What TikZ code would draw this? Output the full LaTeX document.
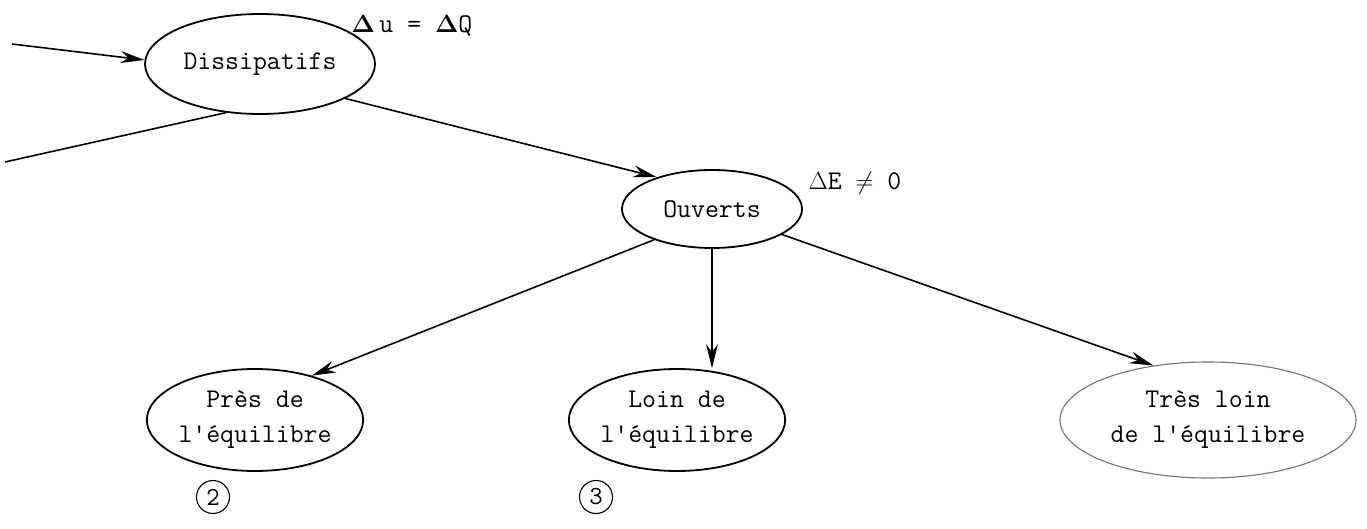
\documentclass[tikz,border=0pt]{standalone}
\usetikzlibrary{arrows.meta,shapes.geometric}
\tikzset{
  blob/.style={draw, ellipse, line width=1.8pt, inner sep=0pt, align=center,
    font=\ttfamily\fontsize{27}{35}\selectfont},
  faintblob/.style={blob, draw=black!55, line width=1.1pt},
  conn/.style={line width=1.6pt, -{Stealth[length=24pt,width=12pt]}},
  plainline/.style={line width=1.6pt},
  note/.style={font=\ttfamily\fontsize{27}{30}\selectfont, inner sep=0pt},
  numc/.style={draw, circle, line width=1.1pt, inner sep=1.5pt, minimum size=33pt,
    font=\ttfamily\fontsize{26}{26}\selectfont}
}
\begin{document}
\begin{tikzpicture}[x=1pt,y=-1pt]
\useasboundingbox (0,0) rectangle (1367,529);

\node[blob, minimum width=230pt, minimum height=100pt] (diss) at (260,64) {Dissipatifs};
\node[blob, minimum width=180pt, minimum height=78pt] (ouv) at (712,209) {Ouverts};
\node[blob, minimum width=216pt, minimum height=102pt] (pres) at (255,420) {Près de\\l\textquotesingle équilibre};
\node[blob, minimum width=216pt, minimum height=102pt] (loin) at (677,420) {Loin de\\l\textquotesingle équilibre};
\node[faintblob, minimum width=296pt, minimum height=116pt] (tres) at (1208,420) {Très loin\\de l\textquotesingle équilibre};

\node[note] (n1) at (412,26) {$\mathbf{\Delta}$\,u = $\mathbf{\Delta}$Q};
\node[note] (n2) at (855,183) {$\Delta$E $\neq$ 0};

\node[numc] (c2) at (213,497) {2};
\node[numc] (c3) at (596,497) {3};

\coordinate (in) at (12,44);
\coordinate (out) at (5,162);

\draw[conn] (in) -- (diss.178);
\draw[plainline] (diss.235) -- (out);
\draw[conn] (diss.-22) -- (ouv.150);
\draw[conn] (ouv.208) -- (pres.38);
\draw[conn] (ouv.south) -- (ouv.south |- loin.north);
\draw[conn] (ouv.-20) -- (tres.135);
\end{tikzpicture}
\end{document}
